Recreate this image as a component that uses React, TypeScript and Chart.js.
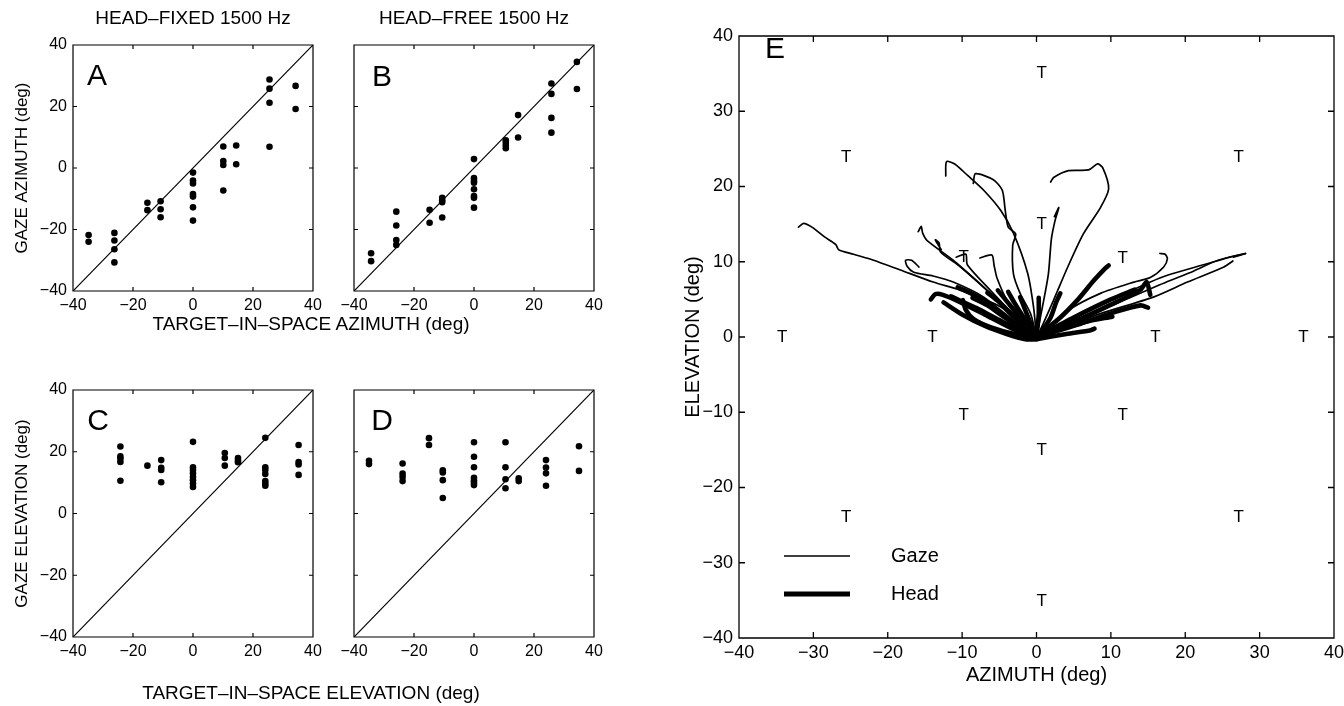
import React, { useEffect, useRef } from 'react';
import { Chart, registerables } from 'chart.js';

Chart.register(...registerables);

const FONT = "'Liberation Sans', Arial, Helvetica, sans-serif";
Chart.defaults.font.family = FONT;
Chart.defaults.color = '#000';

// ---------- Panels A-D: target vs gaze ----------
const axisTicks = [-40, -20, 0, 20, 40];
const diagX = [-40, 40];
const diagY = [-40, 40];

// A: head-fixed azimuth
const aTarget = [-34.8, -34.8, -26.2, -26.2, -26.2, -26.2, -15.2, -15.2, -10.8, -10.8, -10.8, 0, 0, 0, 0, 0, 0, 0, 10.1, 10.1, 10.1, 10.1, 14.4, 14.4, 25.5, 25.5, 25.5, 25.5, 34.2, 34.2];
const aGaze = [-21.8, -24.0, -21.1, -23.6, -26.4, -30.7, -11.3, -13.7, -10.8, -13.4, -16.0, -1.5, -4.1, -5.0, -8.5, -9.3, -12.8, -17.1, 7.0, 2.3, 1.0, -7.3, 7.3, 1.2, 28.8, 25.8, 21.2, 6.9, 26.7, 19.2];

// B: head-free azimuth
const bTarget = [-34.3, -34.3, -25.9, -25.9, -25.9, -25.9, -14.8, -14.8, -10.6, -10.6, -10.6, -10.6, 0, 0, 0, 0, 0, 0, 0, 0, 10.6, 10.6, 10.6, 10.6, 14.7, 14.7, 25.8, 25.8, 25.8, 25.8, 34.3, 34.3];
const bGaze = [-27.7, -30.3, -14.2, -18.7, -23.4, -25.0, -13.6, -17.8, -9.7, -10.5, -11.1, -16.1, 2.9, -3.3, -4.2, -4.8, -6.9, -9.1, -9.7, -12.9, 9.0, 8.2, 7.3, 6.4, 17.2, 9.9, 27.5, 24.1, 16.3, 11.5, 34.5, 25.7];

// C: head-fixed elevation
const cTarget = [-24.2, -24.2, -24.2, -24.2, -24.2, -15.2, -10.6, -10.6, -10.6, -10.6, 0, 0, 0, 0, 0, 0, 0, 0, 10.6, 10.6, 10.6, 15.0, 15.0, 15.0, 24.1, 24.1, 24.1, 24.1, 24.1, 24.1, 24.1, 35.2, 35.2, 35.2, 35.2];
const cGaze = [21.7, 18.5, 17.7, 16.7, 10.6, 15.5, 17.3, 14.8, 14.1, 10.1, 23.2, 15.0, 14.1, 13.0, 11.8, 10.8, 9.7, 8.6, 19.6, 18.0, 15.5, 18.0, 17.2, 16.6, 24.5, 15.0, 14.1, 12.8, 10.5, 9.7, 9.0, 22.2, 16.7, 15.9, 12.5];

// D: head-free elevation
const dTarget = [-35.0, -35.0, -23.8, -23.8, -23.8, -23.8, -15.0, -15.0, -10.4, -10.4, -10.4, -10.4, 0, 0, 0, 0, 0, 0, 0, 10.5, 10.5, 10.5, 10.5, 14.9, 14.9, 24.0, 24.0, 24.0, 24.0, 35.0, 35.0];
const dGaze = [17.1, 16.0, 16.2, 12.9, 11.8, 10.5, 24.4, 22.2, 14.0, 13.3, 10.8, 5.0, 23.1, 18.4, 15.0, 11.6, 10.7, 10.0, 9.2, 23.1, 15.0, 11.1, 8.2, 11.4, 10.5, 17.3, 14.9, 13.0, 9.0, 21.8, 13.8];

// ---------- Panel E: trajectories (azimuth, elevation) ----------
const eTicks = [-40, -30, -20, -10, 0, 10, 20, 30, 40];
const targetAz = [0.7, -25.6, 27.2, 0.7, 11.6, -9.8, -34.2, -14.0, 16.0, 35.9, -9.8, 11.6, 0.7, -25.6, 27.2, 0.7];
const targetEl = [35.0, 23.9, 23.9, 15.0, 10.4, 10.6, 0, 0, 0, 0, -10.4, -10.4, -15.0, -24.0, -24.0, -35.1];

const gaze01 = [[-32.0, 14.6], [-31.3, 15.1], [-30.2, 14.6], [-28.5, 13.3], [-27.0, 12.3], [-26.6, 11.6], [-24.6, 11.0], [-21.9, 10.2], [-18.3, 8.9], [-13.9, 7.3], [-10.2, 6.2], [-4.8, 4.0], [-1.5, 1.4], [0, 0]];
const gaze02 = [[-12.2, 21.4], [-12.1, 23.3], [-11.0, 23.0], [-9.3, 21.5], [-7.1, 19.5], [-4.8, 16.8], [-3.1, 13.8], [-1.2, 8.5], [-0.4, 4.0], [0, 0]];
const gaze03 = [[-8.5, 20.4], [-8.2, 21.7], [-5.8, 20.9], [-4.6, 19.5], [-4.2, 16.8], [-3.8, 14.6], [-2.8, 13.7], [-3.2, 12.2], [-3.1, 8.4], [-2.2, 5.8], [-0.8, 3.1], [0, 0]];
const gaze04 = [[-15.9, 14.0], [-15.5, 14.7], [-15.3, 13.8], [-14.7, 12.8], [-11.2, 10.2], [-7.1, 6.6], [-2.6, 2.6], [0, 0]];
const gaze05 = [[-12.8, 11.6], [-13.6, 12.9], [-13.1, 12.5], [-12.9, 11.3], [-10.2, 9.3], [-6.2, 5.8], [-2.5, 2.2], [0, 0]];
const gaze06 = [[-10.8, 10.6], [-9.5, 11.0], [-9.3, 9.6], [-6.2, 6.2], [-2.5, 2.4], [0, 0]];
const gaze07 = [[-7.6, 10.5], [-6.0, 10.9], [-5.7, 9.5], [-5.3, 7.8], [-3.9, 4.8], [-1.2, 2.0], [0, 0]];
const gaze08 = [[-15.8, 9.3], [-16.8, 10.2], [-17.6, 10.2], [-17.4, 9.4], [-16.5, 8.6], [-13.9, 8.1], [-11.2, 7.3], [-7.1, 5.3], [-2.6, 1.8], [0, 0]];
const gaze09 = [[1.9, 20.6], [2.3, 21.2], [4.3, 22.1], [7.0, 22.2], [8.2, 23.0], [8.9, 22.5], [9.7, 19.7], [8.6, 17.2], [6.3, 13.7], [4.2, 9.3], [2.3, 4.9], [0.5, 0.9], [0, 0]];
const gaze10 = [[2.4, 16.0], [3.0, 17.2], [2.5, 15.5], [2.0, 13.0], [1.6, 8.4], [0.8, 4.0], [0, 0]];
const gaze11 = [[16.6, 11.1], [17.3, 11.0], [17.6, 10.4], [17.1, 9.3], [15.3, 7.9], [13.1, 7.3], [8.6, 5.8], [4.2, 3.5], [0, 0]];
const gaze12 = [[0, 0], [6.3, 3.1], [10.9, 5.3], [15.3, 7.3], [17.6, 8.2], [22.1, 9.5], [26.0, 10.6], [28.1, 11.1]];
const gaze13 = [[0, 0], [7.0, 2.8], [12.0, 5.0], [16.5, 6.9], [20.5, 8.5], [24.4, 10.2], [28.1, 11.1], [26.5, 10.6]];
const gaze14 = [[0, 0], [8.6, 3.1], [15.7, 5.3], [20.3, 7.3], [25.2, 9.3], [26.4, 10.1]];

const head01 = [[-14.2, 5.0], [-13.6, 5.7], [-12.6, 5.6], [-10.2, 4.6], [-6.6, 2.8], [-2.6, 0.8], [0, 0]];
const head02 = [[-9.9, 4.9], [-9.5, 3.6], [-8.5, 2.4], [-6.2, 1.3], [-3.0, 0.4], [0, 0]];
const head03 = [[-10.6, 6.6], [-9.2, 6.0], [-7.1, 4.9], [-3.5, 2.2], [0, 0]];
const head04 = [[-8.6, 5.2], [-6.6, 4.2], [-4.0, 2.4], [0, 0]];
const head05 = [[-6.6, 5.9], [-5.2, 4.8], [-3.0, 2.6], [0, 0]];
const head06 = [[-5.2, 6.2], [-4.2, 5.0], [-2.4, 2.8], [0, 0]];
const head07 = [[-2.2, 5.3], [-1.6, 3.8], [-0.8, 1.8], [0, 0]];
const head08 = [[0.3, 5.2], [0.3, 3.0], [0.1, 1.0], [0, 0]];
const head09 = [[-12.5, 4.6], [-10.0, 3.0], [-7.0, 1.5], [-4.0, 0.4], [-1.5, -0.3], [0, -0.3]];
const head10 = [[9.7, 9.5], [9.2, 9.1], [7.7, 7.5], [5.5, 4.9], [3.2, 2.6], [0, 0]];
const head11 = [[3.2, 5.8], [2.6, 4.5], [1.9, 2.6], [0.5, 0.5], [0, 0]];
const head12 = [[0, 0], [5.0, 2.0], [10.0, 4.3], [14.0, 6.3], [14.8, 7.3], [15.3, 5.6]];
const head13 = [[0, 0], [6.0, 1.8], [10.5, 3.3], [14.0, 4.2], [15.0, 3.9]];
const head14 = [[0, -0.3], [4.0, 0.4], [7.3, 0.9], [7.8, 1.1]];
const head15 = [[0, 0], [5.0, 2.6], [10.0, 5.0], [13.2, 6.3]];
const head16 = [[-11.5, 5.4], [-8.0, 3.8], [-4.5, 2.0], [0, 0]];
const head17 = [[-3.8, 6.0], [-3.0, 4.6], [-1.6, 2.4], [0, 0]];
const head18 = [[0, 0], [3.0, 1.0], [6.5, 2.0], [10.2, 2.7]];

const gazePaths = [gaze01, gaze02, gaze03, gaze04, gaze05, gaze06, gaze07, gaze08, gaze09, gaze10, gaze11, gaze12, gaze13, gaze14];
const headPaths = [head01, head02, head03, head04, head05, head06, head07, head08, head09, head10, head11, head12, head13, head14, head15, head16, head17, head18];

// ---------- helpers ----------
const fmt = (v: any) => (Number(v) < 0 ? '\u2212' + Math.abs(Number(v)) : String(v));
const W = 1344;
const H = 706;

const boxTicksPlugin = {
  id: 'boxTicks',
  afterDatasetsDraw(chart: any, _args: any, opts: any) {
    const { ctx, chartArea } = chart;
    const { left, right, top, bottom } = chartArea;
    const len = opts.tickLen || 4;
    const xs = chart.scales.x;
    const ys = chart.scales.y;
    ctx.save();
    ctx.strokeStyle = '#000';
    ctx.lineWidth = opts.lineWidth || 1.2;
    ctx.beginPath();
    ctx.rect(left, top, right - left, bottom - top);
    xs.ticks.forEach((t: any) => {
      const px = xs.getPixelForValue(t.value);
      ctx.moveTo(px, bottom);
      ctx.lineTo(px, bottom - len);
      ctx.moveTo(px, top);
      ctx.lineTo(px, top + len);
    });
    ys.ticks.forEach((t: any) => {
      const py = ys.getPixelForValue(t.value);
      ctx.moveTo(left, py);
      ctx.lineTo(left + len, py);
      ctx.moveTo(right, py);
      ctx.lineTo(right - len, py);
    });
    ctx.stroke();
    ctx.restore();
  },
};

const letterPlugin = {
  id: 'panelLetter',
  afterDatasetsDraw(chart: any, _args: any, opts: any) {
    if (!opts.text) return;
    const { ctx, chartArea } = chart;
    ctx.save();
    ctx.fillStyle = '#000';
    ctx.font = `${opts.size || 30}px ${FONT}`;
    ctx.textAlign = 'center';
    ctx.textBaseline = 'middle';
    ctx.fillText(opts.text, chartArea.left + opts.dx, chartArea.top + opts.dy);
    ctx.restore();
  },
};

const targetPlugin = {
  id: 'targetT',
  afterDatasetsDraw(chart: any) {
    const { ctx } = chart;
    chart.data.datasets.forEach((ds: any, i: number) => {
      if (!ds.isTarget) return;
      const meta = chart.getDatasetMeta(i);
      ctx.save();
      ctx.fillStyle = '#000';
      ctx.font = `17px ${FONT}`;
      ctx.textAlign = 'center';
      ctx.textBaseline = 'middle';
      meta.data.forEach((el: any) => ctx.fillText('T', el.x, el.y));
      ctx.restore();
    });
  },
};

const legendPlugin = {
  id: 'eLegend',
  afterDatasetsDraw(chart: any) {
    const { ctx, chartArea } = chart;
    const x0 = chartArea.left + 45;
    const x1 = chartArea.left + 111;
    const tx = chartArea.left + 152;
    const items = [
      { label: 'Gaze', width: 1.6, y: chartArea.bottom - 82 },
      { label: 'Head', width: 5, y: chartArea.bottom - 44 },
    ];
    ctx.save();
    ctx.strokeStyle = '#000';
    ctx.fillStyle = '#000';
    ctx.font = `20px ${FONT}`;
    ctx.textAlign = 'left';
    ctx.textBaseline = 'middle';
    items.forEach((it) => {
      ctx.lineWidth = it.width;
      ctx.beginPath();
      ctx.moveTo(x0, it.y);
      ctx.lineTo(x1, it.y);
      ctx.stroke();
      ctx.fillText(it.label, tx, it.y);
    });
    ctx.restore();
  },
};

function panelConfig(p: {
  tx: number[]; gy: number[]; left: number; top: number; right: number; bottom: number;
  yLabels: boolean; yTitle?: string; letter: string; dx: number; dy: number;
}) {
  const yW = p.yLabels ? p.left : 10;
  const xH = 30;
  return {
    type: 'scatter',
    data: {
      datasets: [
        {
          data: p.tx.map((x, i) => ({ x, y: p.gy[i] })),
          pointRadius: 3.3,
          pointBackgroundColor: '#000',
          pointBorderWidth: 0,
          showLine: false,
        },
        {
          data: diagX.map((x, i) => ({ x, y: diagY[i] })),
          showLine: true,
          pointRadius: 0,
          borderColor: '#000',
          borderWidth: 1.2,
        },
      ],
    },
    options: {
      responsive: false,
      animation: false,
      devicePixelRatio: 1,
      events: [],
      layout: { padding: { left: p.left - yW, top: p.top, right: W - p.right, bottom: H - p.bottom - xH } },
      plugins: {
        legend: { display: false },
        tooltip: { enabled: false },
        boxTicks: { tickLen: 4, lineWidth: 1.2 },
        panelLetter: { text: p.letter, dx: p.dx, dy: p.dy, size: 30 },
      },
      scales: {
        x: {
          type: 'linear', min: -40, max: 40,
          afterBuildTicks: (s: any) => { s.ticks = axisTicks.map((v) => ({ value: v })); },
          ticks: { padding: 5, font: { size: 16 }, callback: fmt, maxRotation: 0, autoSkip: false },
          grid: { display: false, drawTicks: false },
          border: { display: false },
          afterFit: (s: any) => { s.height = xH; },
        },
        y: {
          type: 'linear', min: -40, max: 40,
          afterBuildTicks: (s: any) => { s.ticks = axisTicks.map((v) => ({ value: v })); },
          ticks: { display: p.yLabels, padding: 6, font: { size: 16 }, callback: fmt, autoSkip: false },
          grid: { display: false, drawTicks: false },
          border: { display: false },
          title: p.yTitle
            ? { display: true, text: p.yTitle, font: { size: 17 }, padding: { top: 12, bottom: 0 } }
            : { display: false },
          afterFit: (s: any) => { s.width = yW; },
        },
      },
    },
    plugins: [boxTicksPlugin, letterPlugin],
  };
}

const E_CANVAS_W = 1380;

function panelEConfig() {
  const left = 739, top = 36, right = 1334, bottom = 638;
  const yW = 80, xH = 60;
  const lineDs = (path: number[][], width: number) => ({
    data: path.map((p) => ({ x: p[0], y: p[1] })),
    showLine: true,
    pointRadius: 0,
    borderColor: '#000',
    borderWidth: width,
    tension: 0.25,
    borderCapStyle: 'round',
    borderJoinStyle: 'round',
  });
  return {
    type: 'scatter',
    data: {
      datasets: [
        ...gazePaths.map((p) => lineDs(p, 1.7)),
        ...headPaths.map((p) => lineDs(p, 4.6)),
        {
          isTarget: true,
          data: targetAz.map((x, i) => ({ x, y: targetEl[i] })),
          pointRadius: 0,
          showLine: false,
        },
      ],
    },
    options: {
      responsive: false,
      animation: false,
      devicePixelRatio: 1,
      events: [],
      layout: { padding: { left: left - yW, top, right: E_CANVAS_W - right, bottom: H - bottom - xH } },
      plugins: {
        legend: { display: false },
        tooltip: { enabled: false },
        boxTicks: { tickLen: 6, lineWidth: 1.3 },
        panelLetter: { text: 'E', dx: 36, dy: 14, size: 30 },
      },
      scales: {
        x: {
          type: 'linear', min: -40, max: 40,
          afterBuildTicks: (s: any) => { s.ticks = eTicks.map((v) => ({ value: v })); },
          ticks: { padding: 4, font: { size: 18 }, callback: fmt, maxRotation: 0, autoSkip: false },
          grid: { display: false, drawTicks: false },
          border: { display: false },
          title: { display: true, text: 'AZIMUTH (deg)', font: { size: 20 }, padding: { top: 0, bottom: 11 } },
          afterFit: (s: any) => { s.height = xH; },
        },
        y: {
          type: 'linear', min: -40, max: 40,
          afterBuildTicks: (s: any) => { s.ticks = eTicks.map((v) => ({ value: v })); },
          ticks: { padding: 6, font: { size: 18 }, callback: fmt, autoSkip: false },
          grid: { display: false, drawTicks: false },
          border: { display: false },
          title: { display: true, text: 'ELEVATION (deg)', font: { size: 20 }, padding: { top: 22, bottom: 0 } },
          afterFit: (s: any) => { s.width = yW; },
        },
      },
    },
    plugins: [boxTicksPlugin, letterPlugin, targetPlugin, legendPlugin],
  };
}

const ChartLayer: React.FC<{ make: () => any; width?: number }> = ({ make, width = W }) => {
  const ref = useRef<HTMLCanvasElement>(null);
  useEffect(() => {
    const chart = new Chart(ref.current as HTMLCanvasElement, make());
    return () => chart.destroy();
  }, []);
  return (
    <canvas
      ref={ref}
      width={width}
      height={H}
      style={{ position: 'absolute', left: 0, top: 0, width, height: H }}
    />
  );
};

const Label: React.FC<{ x: number; y: number; size: number; text: string }> = ({ x, y, size, text }) => (
  <div
    style={{
      position: 'absolute', left: x, top: y, transform: 'translate(-50%, -50%)',
      fontFamily: FONT, fontSize: size, whiteSpace: 'nowrap', color: '#000', lineHeight: 1,
    }}
  >
    {text}
  </div>
);

export default function App() {
  return (
    <div style={{ position: 'fixed', left: 0, top: 0, width: W, height: H, background: '#fff', overflow: 'hidden' }}>
      <ChartLayer make={() => panelConfig({ tx: aTarget, gy: aGaze, left: 73, top: 45, right: 313, bottom: 291, yLabels: true, yTitle: 'GAZE AZIMUTH (deg)', letter: 'A', dx: 24, dy: 32 })} />
      <ChartLayer make={() => panelConfig({ tx: bTarget, gy: bGaze, left: 354, top: 45, right: 594, bottom: 291, yLabels: false, letter: 'B', dx: 28, dy: 33 })} />
      <ChartLayer make={() => panelConfig({ tx: cTarget, gy: cGaze, left: 73, top: 390, right: 313, bottom: 637, yLabels: true, yTitle: 'GAZE ELEVATION (deg)', letter: 'C', dx: 25, dy: 32 })} />
      <ChartLayer make={() => panelConfig({ tx: dTarget, gy: dGaze, left: 354, top: 390, right: 594, bottom: 637, yLabels: false, letter: 'D', dx: 28, dy: 32 })} />
      <ChartLayer make={panelEConfig} width={E_CANVAS_W} />
      <Label x={193} y={17} size={19} text="HEAD–FIXED 1500 Hz" />
      <Label x={474} y={17} size={19} text="HEAD–FREE 1500 Hz" />
      <Label x={311} y={323} size={19} text="TARGET–IN–SPACE AZIMUTH (deg)" />
      <Label x={311} y={692} size={19} text="TARGET–IN–SPACE ELEVATION (deg)" />
    </div>
  );
}
